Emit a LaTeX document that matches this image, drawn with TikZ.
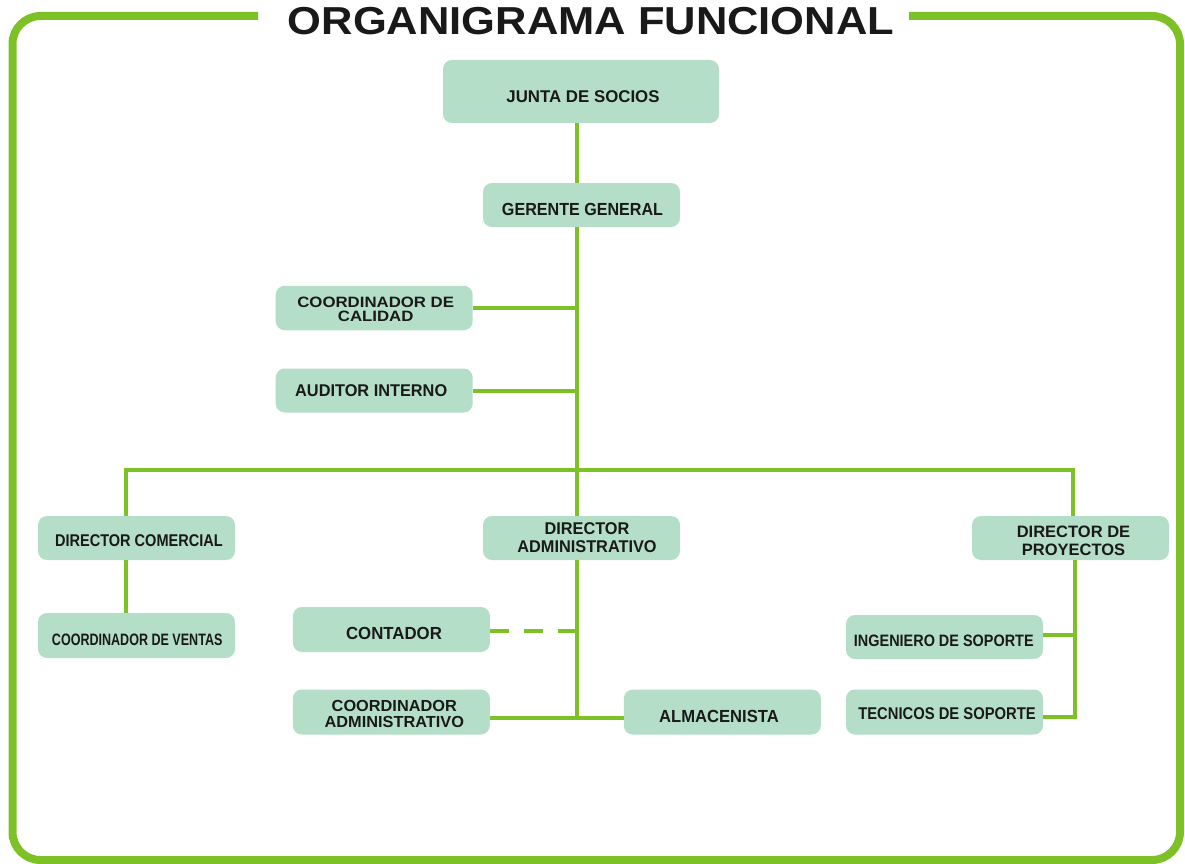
\documentclass[tikz,border=0pt]{standalone}
\usepackage{fontspec}
\setmainfont{Liberation Sans}
\usepackage{graphicx}
\definecolor{linegreen}{RGB}{126,193,38}
\definecolor{boxgreen}{RGB}{180,222,200}
\definecolor{ink}{RGB}{25,25,25}
% horizontal-only scaling of a line of text
\newcommand{\sx}[2]{\scalebox{#1}[1]{#2}}

\begin{document}
\begin{tikzpicture}[x=1pt,y=-1pt,
  box/.style={fill=boxgreen, rounded corners=9pt, inner sep=0pt,
              minimum width=197pt, minimum height=44pt},
  lab/.style 2 args={anchor=center, inner sep=0pt, text=ink, align=center,
              font=\bfseries\fontsize{#1}{#2}\selectfont},
  link/.style={draw=linegreen, line width=4pt},
  frame/.style={draw=linegreen, line width=8pt, rounded corners=28pt},
  title/.style={inner sep=0pt, text=ink, font=\bfseries\fontsize{39}{39}\selectfont}
]
\useasboundingbox (0,0) rectangle (1185,864);

% outer frame, open at the top for the heading
\draw[frame] (258,16) -- (12.5,16) -- (12.5,860) -- (1180,860) -- (1180,16) -- (909,16);
\node[title] (heading) at (591,21.5) {\sx{1.115}{ORGANIGRAMA FUNCIONAL}};

% guide coordinates for the connector runs
\coordinate (spine) at (577,0);
\coordinate (busL) at (126,470);
\coordinate (busR) at (1073,470);
\coordinate (pv) at (1075,0);

% boxes
\node[box, minimum width=276pt, minimum height=63pt,
  label={[lab={17}{17}, shift={(2,4.8)}]center:\sx{0.99}{JUNTA DE SOCIOS}}] (junta) at (581,91.5) {};
\node[box,
  label={[lab={17.5}{17.5}, shift={(1,4)}]center:\sx{0.92}{GERENTE GENERAL}}] (gerente) at (581.5,205) {};
\node[box, minimum height=44.5pt,
  label={[lab={15}{14}, shift={(1.5,1.2)}]center:{\sx{1.12}{COORDINADOR DE}\\\sx{1.12}{CALIDAD}}}] (calidad) at (374.2,308) {};
\node[box,
  label={[lab={17}{17}, shift={(-3,0)}]center:\sx{0.96}{AUDITOR INTERNO}}] (auditor) at (374.2,390.5) {};

\node[box,
  label={[lab={17}{17}, shift={(2.4,2.5)}]center:\sx{0.855}{DIRECTOR COMERCIAL}}] (dcom) at (136.5,538) {};
\node[box, minimum height=45pt,
  label={[lab={16.5}{16.5}, shift={(0.7,4.5)}]center:\sx{0.76}{COORDINADOR DE VENTAS}}] (cventas) at (136.5,635.5) {};

\node[box,
  label={[lab={17}{17.5}, shift={(5.5,-0.5)}]center:{\sx{0.96}{DIRECTOR}\\\sx{0.96}{ADMINISTRATIVO}}}] (dadmin) at (581.5,538) {};
\node[box, minimum height=45pt,
  label={[lab={17.5}{17.5}, shift={(2.6,4)}]center:\sx{0.96}{CONTADOR}}] (contador) at (391.4,629.5) {};
\node[box, minimum height=45pt,
  label={[lab={16}{16.8}, shift={(3,2)}]center:{\sx{1.02}{COORDINADOR}\\\sx{1.02}{ADMINISTRATIVO}}}] (cadmin) at (391.3,712) {};
\node[box, minimum height=45pt,
  label={[lab={17.5}{17.5}, shift={(-3.3,4)}]center:\sx{0.95}{ALMACENISTA}}] (almac) at (722.3,712) {};

\node[box,
  label={[lab={16.5}{18.3}, shift={(3,2.8)}]center:{\sx{1.0}{DIRECTOR DE}\\\sx{1.0}{PROYECTOS}}}] (dproy) at (1070.5,538) {};
\node[box,
  label={[lab={16.5}{16.5}, shift={(-0.7,3.8)}]center:\sx{0.875}{INGENIERO DE SOPORTE}}] (ingeniero) at (944.5,637) {};
\node[box, minimum height=45pt,
  label={[lab={17}{17}, shift={(2.5,1.8)}]center:\sx{0.87}{TECNICOS DE SOPORTE}}] (tecnicos) at (944.5,712) {};

% main vertical line
\draw[link] (junta.south -| spine) -- (gerente.north -| spine);
\draw[link] (gerente.south -| spine) -- (dadmin.north -| spine);

% staff positions beside the general manager
\draw[link] (calidad.east) -- (calidad.east -| spine);
\draw[link] (auditor.east) -- (auditor.east -| spine);

% directors' bus
\draw[link] (dcom.north -| busL) -- (busL) -- (busR) -- (dproy.north -| busR);
\draw[link] (dcom.south -| busL) -- (cventas.north -| busL);

% administrative branch
\draw[link] (dadmin.south -| spine) -- ([shift={(0,5.5)}]cadmin.east -| spine);
\draw[link] ([shift={(0,5.5)}]cadmin.east) -- ([shift={(0,5.5)}]almac.west);
\draw[link, dash pattern=on 19pt off 15pt] ([shift={(0,1)}]contador.east) -- ([shift={(0,1)}]contador.east -| spine);

% projects branch
\draw[link] (dproy.south -| pv) -- ([shift={(0,4.7)}]tecnicos.east -| pv) -- ([shift={(0,4.7)}]tecnicos.east);
\draw[link] ([shift={(0,-2)}]ingeniero.east) -- ([shift={(0,-2)}]ingeniero.east -| pv);
\end{tikzpicture}
\end{document}
